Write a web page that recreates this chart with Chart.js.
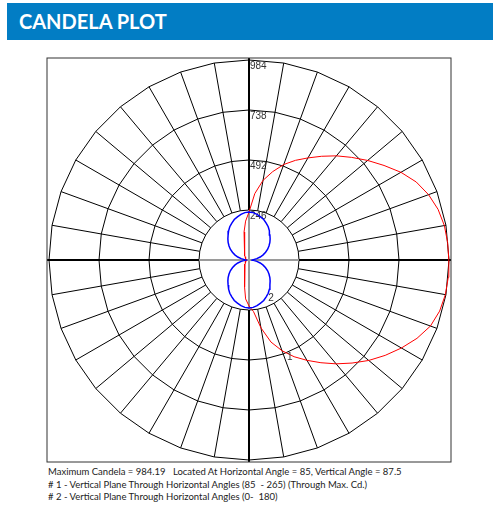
<!DOCTYPE html>
<html>
<head>
<meta charset="utf-8">
<title>Candela Plot</title>
<script src="https://cdn.jsdelivr.net/npm/chart.js@4.4.1/dist/chart.umd.min.js"></script>
<style>
  html, body { margin: 0; padding: 0; background: #fff; }
  body { width: 499px; height: 508px; position: relative; overflow: hidden; font-family: Lato, "Open Sans", sans-serif; }
  #titleBar {
    position: absolute; left: 7px; top: 3px; width: 486px; height: 37px;
    background: #027dc4; color: #fff;
    font: bold 20px Lato, sans-serif; line-height: 37px;
    padding-left: 12px; box-sizing: border-box;
  }
  #plotWrap { position: absolute; left: 46px; top: 57px; width: 406px; height: 406px; }
  #notes {
    position: absolute; left: 48px; top: 466px;
    font: 9.5px Lato, sans-serif; line-height: 12.5px; color: #222;
    white-space: pre;
  }
</style>
</head>
<body>
<div id="titleBar">CANDELA PLOT</div>
<div id="plotWrap"><canvas id="candelaChart" width="406" height="406"></canvas></div>
<div id="notes">Maximum Candela = 984.19   Located At Horizontal Angle = 85, Vertical Angle = 87.5
# 1 - Vertical Plane Through Horizontal Angles (85  - 265) (Through Max. Cd.)
# 2 - Vertical Plane Through Horizontal Angles (0-  180)</div>

<script>
// Vertical angles (0 = straight down, 180 = straight up)
const verticalAngles = [0, 5, 10, 15, 20, 25, 30, 35, 40, 45, 50, 55, 60, 65, 70, 75, 80, 85, 87.5,
  90, 95, 100, 105, 110, 115, 120, 125, 130, 135, 140, 145, 150, 155, 160, 165, 170, 175, 180];

// Plane #1 : horizontal 85 (right half) and 265 (left half)
const plane85 = [226, 255, 339, 418, 475, 525, 570, 617, 667, 717, 769, 818, 866, 912, 950, 971, 981, 984, 984.19,
  983, 981, 976, 963, 940, 908, 863, 811, 762, 714, 669, 623, 580, 541, 500, 450, 398, 328, 236];
const plane265 = [226, 192, 136, 86, 64, 51, 42, 37, 32, 28, 25, 22, 20, 18, 16, 14, 13, 12, 12,
  12, 12, 13, 14, 16, 18, 20, 22, 25, 28, 32, 37, 42, 51, 66, 93, 140, 192, 236];

// Plane #2 : horizontal 0 (right half) and 180 (left half)
const plane0 = [236, 234, 228, 220, 212, 200, 189, 175, 160, 147, 134, 120, 106, 90, 74, 57, 39, 22, 17,
  15, 22, 39, 57, 74, 90, 106, 120, 134, 147, 160, 175, 189, 200, 212, 220, 228, 234, 236];
const plane180 = plane0.slice();

// Grid rings and their labels
const ringValues = [246, 492, 738, 984];
const spokeStep = 10;
const maxCandela = 984;
const axisLimit = maxCandela * 202 / 200;

// polar (vertical angle, candela) -> x/y in candela units
function toXY(angle, cd, side) {
  const rad = angle * Math.PI / 180;
  return { x: side * cd * Math.sin(rad), y: -cd * Math.cos(rad) };
}

// right half going up, then left half coming back down
function buildLoop(rightVals, leftVals) {
  const pts = [];
  verticalAngles.forEach((a, i) => pts.push(toXY(a, rightVals[i], 1)));
  for (let i = verticalAngles.length - 1; i >= 0; i--) {
    pts.push(toXY(verticalAngles[i], leftVals[i], -1));
  }
  return pts;
}

const polarGrid = {
  id: "polarGrid",
  beforeDatasetsDraw(chart) {
    const ctx = chart.ctx;
    const xs = chart.scales.x, ys = chart.scales.y;
    const area = chart.chartArea;
    const px = (a, v) => {
      const p = toXY(a, v, 1);
      return [xs.getPixelForValue(p.x), ys.getPixelForValue(p.y)];
    };
    const cx = xs.getPixelForValue(0), cy = ys.getPixelForValue(0);
    const innerR = cy - ys.getPixelForValue(ringValues[0]) ;

    ctx.save();
    // rings (36-sided)
    ctx.strokeStyle = "#000";
    ctx.lineWidth = 1;
    ringValues.forEach(v => {
      ctx.beginPath();
      for (let a = 0; a <= 360; a += spokeStep) {
        const [x, y] = px(a, v);
        if (a === 0) ctx.moveTo(x, y); else ctx.lineTo(x, y);
      }
      ctx.closePath();
      ctx.stroke();
    });
    // spokes from inner ring to outer ring
    for (let a = spokeStep; a < 360; a += spokeStep) {
      if (a % 90 === 0) continue;
      const [x1, y1] = px(a, ringValues[0]);
      const [x2, y2] = px(a, ringValues[ringValues.length - 1]);
      ctx.beginPath();
      ctx.moveTo(x1, y1);
      ctx.lineTo(x2, y2);
      ctx.stroke();
    }
    // main axes: grey inside the inner ring, black outside
    ctx.lineWidth = 2;
    ctx.strokeStyle = "#9a9a9a";
    ctx.beginPath();
    ctx.moveTo(cx - innerR, cy); ctx.lineTo(cx + innerR, cy);
    ctx.moveTo(cx, cy - innerR); ctx.lineTo(cx, cy + innerR);
    ctx.stroke();
    ctx.strokeStyle = "#000";
    ctx.beginPath();
    ctx.moveTo(area.left, cy); ctx.lineTo(cx - innerR, cy);
    ctx.moveTo(cx + innerR, cy); ctx.lineTo(area.right, cy);
    ctx.moveTo(cx, area.top); ctx.lineTo(cx, cy - innerR);
    ctx.moveTo(cx, cy + innerR); ctx.lineTo(cx, area.bottom);
    ctx.stroke();
    // frame
    ctx.lineWidth = 1;
    ctx.strokeStyle = "#333";
    ctx.strokeRect(area.left, area.top, area.right - area.left, area.bottom - area.top);
    // ring labels
    ctx.fillStyle = "#333";
    ctx.font = "10px 'Liberation Sans', Arial, sans-serif";
    ctx.textAlign = "left";
    ctx.textBaseline = "top";
    ringValues.forEach(v => {
      const [x, y] = px(180, v);
      ctx.fillText(String(v), x + 1, y + 1);
    });
    ctx.restore();
  },
  afterDatasetsDraw(chart) {
    const ctx = chart.ctx;
    const m1 = chart.getDatasetMeta(1).data;
    const m2 = chart.getDatasetMeta(0).data;
    ctx.save();
    ctx.fillStyle = "#333";
    ctx.font = "10px 'Liberation Sans', Arial, sans-serif";
    ctx.textAlign = "left";
    ctx.textBaseline = "top";
    ctx.fillText("1", (m1[4].x + m1[5].x) / 2 - 1, (m1[4].y + m1[5].y) / 2 - 1);
    ctx.fillText("2", m2[6].x, m2[6].y);
    ctx.restore();
  }
};

new Chart(document.getElementById("candelaChart"), {
  type: "scatter",
  data: {
    datasets: [
      {
        label: "# 2",
        data: buildLoop(plane0, plane180),
        showLine: true,
        borderColor: "#0000ff",
        borderWidth: 1.5,
        pointRadius: 0,
        tension: 0
      },
      {
        label: "# 1",
        data: buildLoop(plane85, plane265),
        showLine: true,
        borderColor: "#ff0000",
        borderWidth: 1,
        pointRadius: 0,
        tension: 0
      }
    ]
  },
  options: {
    responsive: false,
    animation: false,
    layout: { padding: 1 },
    plugins: { legend: { display: false }, tooltip: { enabled: false } },
    scales: {
      x: { type: "linear", min: -axisLimit, max: axisLimit, display: false },
      y: { type: "linear", min: -axisLimit, max: axisLimit, display: false }
    }
  },
  plugins: [polarGrid]
});
</script>
</body>
</html>
